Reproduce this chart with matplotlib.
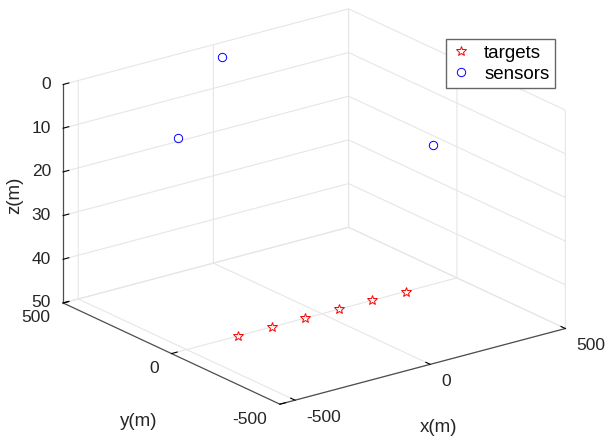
import matplotlib
matplotlib.use("Agg")
import matplotlib.pyplot as plt
from matplotlib.transforms import IdentityTransform
from mpl_toolkits.mplot3d import proj3d

plt.rcParams["font.family"] = ["Liberation Sans", "DejaVu Sans"]
plt.rcParams["axes.unicode_minus"] = False

# targets on the floor (z = 50), sensors at the surface (z = 0)
target_x = [-310, -186, -62, 62, 186, 310]
target_y = [0, 0, 0, 0, 0, 0]
target_z = [50, 50, 50, 50, 50, 50]

sensor_x = [-40, -556, 9]
sensor_y = [409, -31, -500]
sensor_z = [0, 0, 0]

x_lim = (-556, 500)
y_lim = (-500, 500)
z_lim = (0, 50)
xy_ticks = [-500, 0, 500]
z_ticks = [0, 10, 20, 30, 40, 50]

W, H = 605, 438
fig = plt.figure(figsize=(W / 100, H / 100), dpi=100)
ax = fig.add_axes([0.0096, 0.015, 1.0, 1.0], projection="3d", proj_type="ortho")

ax.plot(target_x, target_y, target_z, linestyle="none", marker="*", ms=7,
        mfc="none", mec="red", mew=0.7, label="targets")
ax.plot(sensor_x, sensor_y, sensor_z, linestyle="none", marker="o", ms=6,
        mfc="none", mec="blue", mew=0.7, label="sensors")

ax.set_xlim(*x_lim)
ax.set_ylim(*y_lim)
ax.set_zlim(*z_lim)
ax.invert_zaxis()
ax.set_xticks(xy_ticks)
ax.set_yticks(xy_ticks)
ax.set_zticks(z_ticks)
ax.set_xticklabels([""] * len(xy_ticks))
ax.set_yticklabels([""] * len(xy_ticks))
ax.set_zticklabels([""] * len(z_ticks))
ax.view_init(elev=20.6, azim=-127)
ax.set_box_aspect((1, 1.008, 0.653), zoom=1.238)

for a in (ax.xaxis, ax.yaxis, ax.zaxis):
    a.set_pane_color((1, 1, 1, 0))
    a.pane.set_edgecolor((0.86, 0.86, 0.86))
    a._axinfo["grid"].update(color=(0.9, 0.9, 0.9, 1), linewidth=0.8)
    a._axinfo["tick"].update(inward_factor=0.0, outward_factor=0.25)
    a.line.set_color((0.3, 0.3, 0.3))
    a.line.set_linewidth(0.9)

ax.legend(loc="upper right", bbox_to_anchor=(555 / W, 1 - 39 / H),
          bbox_transform=fig.transFigure, borderaxespad=0, fontsize=13.5,
          handlelength=1.0, handletextpad=0.75, labelspacing=0.2,
          borderpad=0.3, fancybox=False, edgecolor=(0.4, 0.4, 0.4),
          framealpha=1)

# tick labels placed MATLAB-style next to the projected tick positions
fig.canvas.draw()
M = ax.get_proj()


def to_px(x, y, z):
    xs, ys, _ = proj3d.proj_transform(x, y, z, M)
    return ax.transData.transform((xs, ys))


tick_kw = dict(fontsize=12.5, color=(0.15, 0.15, 0.15), transform=IdentityTransform())
for v in z_ticks:
    px, py = to_px(x_lim[0], y_lim[1], v)
    fig.text(px - 12, py, str(v), ha="right", va="center", **tick_kw)
for v in xy_ticks:
    px, py = to_px(v, y_lim[0], z_lim[1])
    fig.text(px + 11, py - 17, str(v), ha="left", va="center", **tick_kw)
for v in xy_ticks:
    px, py = to_px(x_lim[0], v, z_lim[1])
    fig.text(px - 13, py - 15, str(v), ha="right", va="center", **tick_kw)

label_kw = dict(fontsize=13.5, color=(0.15, 0.15, 0.15), ha="center", va="center")
fig.text(439 / W, 1 - 427 / H, "x(m)", **label_kw)
fig.text(139 / W, 1 - 422 / H, "y(m)", **label_kw)
fig.text(15 / W, 1 - 195 / H, "z(m)", rotation=90, **label_kw)

fig.savefig("out.png", dpi=100)
